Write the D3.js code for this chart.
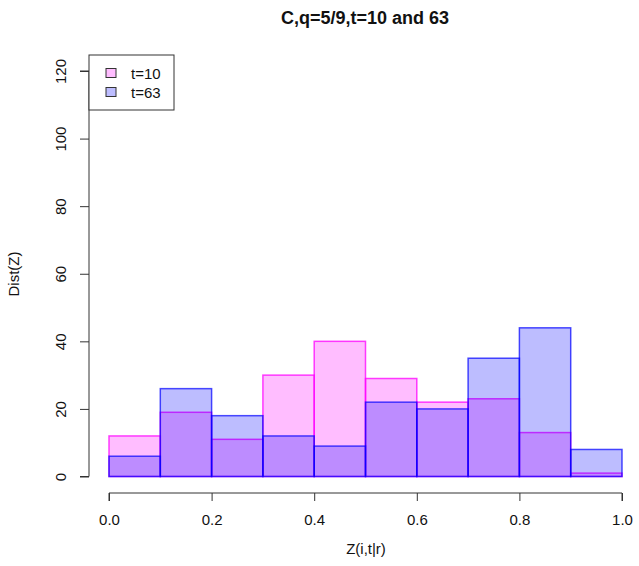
<!DOCTYPE html>
<html><head><meta charset="utf-8">
<script src="https://cdn.jsdelivr.net/npm/d3@7"></script>
<style>body{margin:0;background:#fff}svg{display:block;font-family:"Liberation Sans",Arial,sans-serif}</style>
</head><body>
<svg id="c" width="639" height="566"></svg>
<script>
const binEdges = [0,0.1,0.2,0.3,0.4,0.5,0.6,0.7,0.8,0.9,1.0];
const t10 = [12,19,11,30,40,29,22,23,13,1];
const t63 = [6,26,18,12,9,22,20,35,44,8];
const xTicks = [0,0.2,0.4,0.6,0.8,1.0];
const yTicks = [0,20,40,60,80,100,120];
const seriesNames = ["t=10","t=63"];
const title = "C,q=5/9,t=10 and 63";

const svg = d3.select("#c");
const x = d3.scaleLinear().domain([0,1]).range([109,622]);
const y = d3.scaleLinear().domain([0,120]).range([476.5,71]);
const FF = "Liberation Sans, Arial, sans-serif";

const series = [
  {name: seriesNames[0], vals: t10, fill: "rgba(255,0,255,0.26)", stroke: "rgba(255,0,255,0.75)"},
  {name: seriesNames[1], vals: t63, fill: "rgba(0,0,255,0.26)", stroke: "rgba(0,0,255,0.7)"}
];
series.forEach(s => {
  svg.append("g").selectAll("rect").data(s.vals).join("rect")
    .attr("x", (d,i) => x(binEdges[i]))
    .attr("width", (d,i) => x(binEdges[i+1]) - x(binEdges[i]))
    .attr("y", d => y(d))
    .attr("height", d => y(0) - y(d))
    .attr("fill", s.fill).attr("stroke", s.stroke).attr("stroke-width", 1.5);
});

// x axis
const xa = svg.append("g").attr("transform","translate(0,493)")
  .call(d3.axisBottom(x).tickValues(xTicks).tickFormat(d3.format(".1f")).tickSize(8).tickPadding(13));
xa.select(".domain").attr("stroke","#333").attr("d", `M${x(0)},8V0H${x(1)}V8`);
xa.selectAll("line").attr("stroke","#333");
xa.selectAll("text").attr("font-size",15).attr("fill","#111").attr("font-family",FF);

// y axis
const ya = svg.append("g").attr("transform","translate(89,0)")
  .call(d3.axisLeft(y).tickValues(yTicks).tickSize(9).tickPadding(0));
ya.select(".domain").attr("stroke","#333").attr("d", `M-9,${y(0)}H0V${y(120)}H-9`);
ya.selectAll("line").attr("stroke","#333");
ya.selectAll(".tick text").attr("font-size",15).attr("fill","#111")
  .attr("font-family",FF)
  .attr("text-anchor","middle").attr("x",0).attr("dy",0)
  .attr("transform","translate(-29,0) rotate(-90)")
  .attr("dominant-baseline","central");

// labels
svg.append("text").attr("x",365).attr("y",24).attr("text-anchor","middle")
  .attr("font-weight","bold").attr("font-size",18).attr("fill","#111").text(title);
svg.append("text").attr("x",366).attr("y",554).attr("text-anchor","middle")
  .attr("font-size",15).attr("fill","#111").text("Z(i,t|r)");
svg.append("text").attr("transform","translate(19,274) rotate(-90)").attr("text-anchor","middle")
  .attr("font-size",15).attr("fill","#111").text("Dist(Z)");

// legend
const lg = svg.append("g");
lg.append("rect").attr("x",89).attr("y",55).attr("width",85).attr("height",55)
  .attr("fill","#fff").attr("stroke","#333");
series.forEach((s,i) => {
  const yy = 73 + i*19;
  lg.append("rect").attr("x",106).attr("y",yy-4.5).attr("width",10).attr("height",9)
    .attr("fill", s.fill).attr("stroke","#333").attr("stroke-width",1);
  lg.append("text").attr("x",131).attr("y",yy).attr("dominant-baseline","central")
    .attr("font-size",15).attr("fill","#111").text(s.name);
});
</script>
</body></html>
